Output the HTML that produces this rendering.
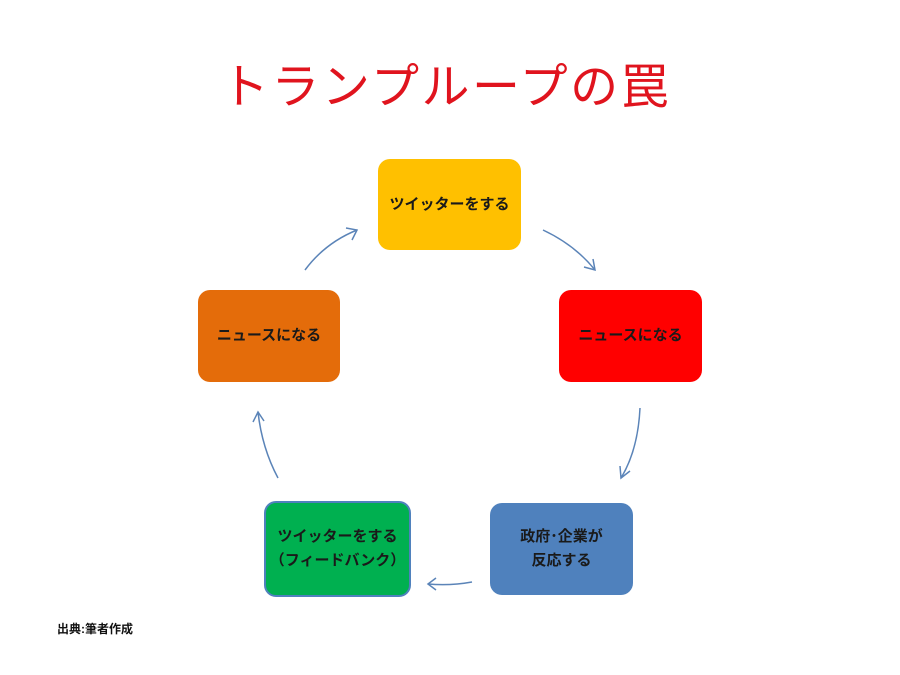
<!DOCTYPE html>
<html><head><meta charset="utf-8"><style>
body{margin:0;width:900px;height:675px;background:#fff;position:relative;overflow:hidden;font-family:"Liberation Sans","Noto Sans CJK JP",sans-serif;}
.t{position:absolute;left:-4px;width:900px;top:58px;text-align:center;font-size:48px;color:#e0141e;line-height:60px;letter-spacing:2.5px;}
.b{position:absolute;border-radius:12px;display:flex;align-items:center;justify-content:center;text-align:center;font-weight:bold;font-size:15px;color:#1a1a1a;line-height:24px;}
.f{position:absolute;left:57px;top:620px;font-size:12px;font-weight:bold;color:#111;}
</style></head><body>
<div class="t">トランプループの罠</div>
<div class="b" style="left:378px;top:159px;width:143px;height:91px;background:#ffc000">ツイッターをする</div>
<div class="b" style="left:198px;top:290px;width:142px;height:92px;background:#e46c0a">ニュースになる</div>
<div class="b" style="left:559px;top:290px;width:143px;height:92px;background:#ff0000">ニュースになる</div>
<div class="b" style="left:264px;top:501px;width:143px;height:92px;background:#00b050;border:2px solid #4f81bd">ツイッターをする<br>（フィードバンク）</div>
<div class="b" style="left:490px;top:503px;width:143px;height:92px;background:#4f81bd">政府･企業が<br>反応する</div>
<svg width="900" height="675" style="position:absolute;left:0;top:0" fill="none" stroke="#5b84b8" stroke-width="1.5">
<path d="M305 270 Q325 243 357 230"/><path d="M346 228 L357 230 L352 240"/>
<path d="M543 230 Q575 245 595 270"/><path d="M584 267 L595 270 L593 259"/>
<path d="M640 408 Q638 450 621 478"/><path d="M620 466 L621 478 L630 471"/>
<path d="M472 582 Q450 586 428 584"/><path d="M436 578 L428 584 L436 590"/>
<path d="M278 478 Q262 448 258 412"/><path d="M253 422 L258 412 L264 421"/>
</svg>
<div class="f">出典:筆者作成</div>
</body></html>
